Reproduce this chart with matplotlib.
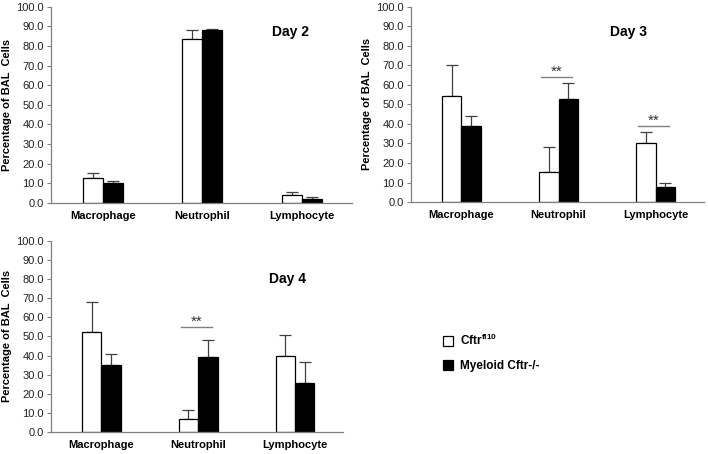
import matplotlib
matplotlib.use("Agg")
import matplotlib.pyplot as plt
from matplotlib.patches import Patch
import numpy as np

plt.rcParams['font.family'] = ['Liberation Sans', 'DejaVu Sans']
plt.rcParams['mathtext.fontset'] = 'custom'
plt.rcParams['mathtext.rm'] = 'Liberation Sans'
plt.rcParams['mathtext.bf'] = 'Liberation Sans:bold'

categories = ["Macrophage", "Neutrophil", "Lymphocyte"]
series_names = [r"Cftr$^{\mathbf{fl10}}$", "Myeloid Cftr-/-"]
days = ["Day 2", "Day 3", "Day 4"]

# values (mean) and upper error for each day: [white series, black series]
day2_ctrl = [12.5, 83.5, 4.3]
day2_ctrl_err = [2.7, 4.5, 1.2]
day2_ko = [10.0, 88.3, 2.2]
day2_ko_err = [1.2, 0.4, 0.8]

day3_ctrl = [54.5, 15.5, 30.0]
day3_ctrl_err = [15.5, 12.5, 6.0]
day3_ko = [39.0, 53.0, 7.5]
day3_ko_err = [5.0, 8.0, 2.5]

day4_ctrl = [52.5, 7.0, 40.0]
day4_ctrl_err = [15.5, 4.5, 11.0]
day4_ko = [35.0, 39.0, 25.5]
day4_ko_err = [6.0, 9.0, 11.0]

# significance: (category index, line height)
day3_sig = [(1, 64.0), (2, 39.0)]
day4_sig = [(1, 55.0)]

fig = plt.figure(figsize=(7.08, 4.54), dpi=100)

axes_pos = [
    [0.072, 0.553, 0.425, 0.432],
    [0.5805, 0.555, 0.414, 0.430],
    [0.072, 0.0485, 0.413, 0.421],
]
data = [
    (day2_ctrl, day2_ctrl_err, day2_ko, day2_ko_err, [], (1.88, 87)),
    (day3_ctrl, day3_ctrl_err, day3_ko, day3_ko_err, day3_sig, (1.72, 87)),
    (day4_ctrl, day4_ctrl_err, day4_ko, day4_ko_err, day4_sig, (1.92, 80)),
]

grey = "#808080"
w = 0.2
for pos, (c, ce, k, ke, sig, lblpos), day in zip(axes_pos, data, days):
    ax = fig.add_axes(pos)
    x = np.arange(len(categories))
    ax.bar(x - w / 2, c, w, color="white", edgecolor="black", linewidth=0.9, zorder=2)
    ax.bar(x + w / 2, k, w, color="black", edgecolor="black", linewidth=0.9, zorder=2)
    ax.errorbar(x - w / 2, c, yerr=[np.zeros(3), ce], fmt="none", ecolor="#404040",
                elinewidth=0.9, capsize=4, capthick=0.9, zorder=1)
    ax.errorbar(x + w / 2, k, yerr=[np.zeros(3), ke], fmt="none", ecolor="#404040",
                elinewidth=0.9, capsize=4, capthick=0.9, zorder=1)
    for ci, h in sig:
        ax.plot([ci - 0.18, ci + 0.14], [h, h], color=grey, lw=1.0)
        ax.text(ci - 0.02, h + 0.8, "**", ha="center", va="baseline", fontsize=11, color="#333333")
    ax.set_xlim(-0.52, 2.5)
    ax.set_ylim(0, 100)
    ax.set_yticks(np.arange(0, 101, 10))
    ax.set_yticklabels([f"{v:.1f}" for v in np.arange(0, 101, 10)], fontsize=8, color="#222222")
    ax.set_xticks(x)
    ax.set_xticklabels(categories, fontsize=8, fontweight="bold")
    ax.tick_params(axis="x", length=0, pad=6)
    ax.tick_params(axis="y", length=3, color=grey, pad=2)
    for s in ["top", "right"]:
        ax.spines[s].set_visible(False)
    for s in ["left", "bottom"]:
        ax.spines[s].set_color(grey)
        ax.spines[s].set_linewidth(0.9)
    ax.set_ylabel("Percentage of BAL  Cells", fontsize=8, fontweight="bold", labelpad=3)
    ax.text(lblpos[0], lblpos[1], day, ha="center", va="center", fontsize=10, fontweight="bold")

handles = [Patch(facecolor="white", edgecolor="black", linewidth=0.9),
           Patch(facecolor="black", edgecolor="black", linewidth=0.9)]
leg = fig.legend(handles, series_names, loc="upper left", bbox_to_anchor=(0.61, 0.29),
                 frameon=False, prop={"size": 8.5, "weight": "bold"},
                 handlelength=0.9, handleheight=0.9, handletextpad=0.6, labelspacing=1.0)

fig.savefig("out.png", dpi=100)
